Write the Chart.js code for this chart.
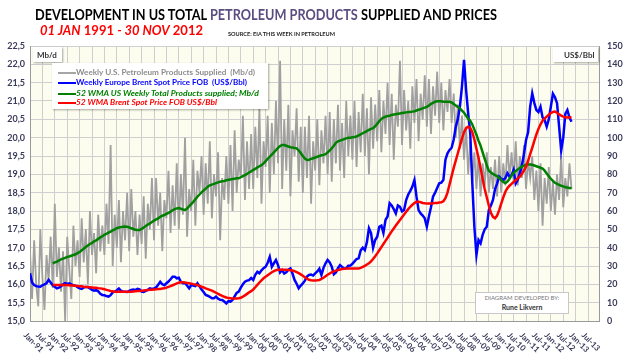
<!DOCTYPE html>
<html>
<head>
<meta charset="utf-8">
<script src="https://cdn.jsdelivr.net/npm/chart.js@4.4.1/dist/chart.umd.min.js"></script>
<style>
html,body{margin:0;padding:0;background:#fff;}
#wrap{position:relative;width:630px;height:354px;overflow:hidden;font-family:Lato,"Open Sans",sans-serif;}
#c{position:absolute;left:0;top:0;}
.ov{position:absolute;white-space:nowrap;transform-origin:0 0;line-height:1;}
.box{position:absolute;background:#fff;box-shadow:1px 1px 2px rgba(0,0,0,.35);}
.swatch{position:absolute;left:6px;width:18px;height:2px;}
</style>
</head>
<body>
<div id="wrap">
  <canvas id="c" width="630" height="354"></canvas>

  <div class="ov fit" data-w="462" style="left:35px;top:7px;font-size:15px;font-weight:bold;color:#000">DEVELOPMENT IN US TOTAL <span style="color:#5b4d80">PETROLEUM PRODUCTS</span> SUPPLIED AND PRICES</div>
  <div class="ov fit" data-w="163" style="left:40px;top:24px;font-size:13px;font-weight:bold;color:#f00"><i>01 JAN</i> 1991 <i>- 30 NOV</i> 2012</div>
  <div class="ov fit" data-w="107" style="left:228px;top:31px;font-size:6px;font-weight:bold;color:#222">SOURCE: EIA THIS WEEK IN PETROLEUM</div>

  <div class="box" style="left:33px;top:47px;width:29px;height:15px;"></div>
  <div class="ov" style="left:37px;top:51px;font-size:8px;font-weight:bold;color:#333">Mb/d</div>
  <div class="box" style="left:553px;top:47px;width:45px;height:15px;"></div>
  <div class="ov" style="left:564px;top:51px;font-size:8px;font-weight:bold;color:#333">US$/Bbl</div>

  <div class="box" style="left:52px;top:63px;width:216px;height:46px;">
    <div class="swatch" style="top:9px;background:#a6a6a6"></div>
    <div class="ov fit" data-w="179" style="left:24px;top:5px;font-size:8px;font-weight:bold;color:#8c8c8c">Weekly U.S. Petroleum Products Supplied&nbsp; (Mb/d)</div>
    <div class="swatch" style="top:19px;background:#0000ff"></div>
    <div class="ov fit" data-w="171" style="left:24px;top:15px;font-size:8px;font-weight:bold;color:#0000ff">Weekly Europe Brent Spot Price FOB&nbsp; (US$/Bbl)</div>
    <div class="swatch" style="top:30px;background:#008000"></div>
    <div class="ov fit" data-w="183" style="left:24px;top:26px;font-size:8px;font-weight:bold;font-style:italic;color:#008000">52 WMA US Weekly Total Products supplied; Mb/d</div>
    <div class="swatch" style="top:39px;background:#ff0000"></div>
    <div class="ov fit" data-w="141" style="left:24px;top:35px;font-size:8px;font-weight:bold;font-style:italic;color:#ff0000">52 WMA Brent Spot Price FOB US$/Bbl</div>
  </div>

  <div style="position:absolute;left:475px;top:292px;width:92px;height:20px;background:#fff;border:1px solid #c8c8c8;"></div>
  <div class="ov" style="left:475px;top:295px;width:94px;text-align:center;font-size:6px;color:#777">DIAGRAM DEVELOPED BY:</div>
  <div class="ov" style="left:475px;top:304px;width:94px;text-align:center;font-size:7px;font-weight:bold;color:#333">Rune Likvern</div>
</div>

<script>
// monthly readings, Jan-91 .. Nov-12 (index = months since Jan-91)
const supplyWeekly = [
  16.9, 15.6, 17.2, 16.0, 15.4, 17.5, 16.2, 15.3, 16.8, 16.1, 17.3, 15.9,
  18.2, 16.2, 17.0, 15.8, 16.9, 15.0, 17.3, 16.4, 15.6, 17.6, 16.5, 17.2,
  16.2, 17.8, 16.6, 17.5, 16.0, 18.0, 16.8, 17.4, 16.3, 17.9, 16.9, 17.6,
  16.8, 18.2, 17.1, 19.8, 16.5, 17.9, 17.0, 18.3, 16.6, 18.0, 17.2, 18.5,
  16.9, 18.6, 17.3, 18.0, 16.8, 17.9, 17.1, 18.4, 16.7, 18.2, 17.5, 18.9,
  17.2, 18.9, 17.6, 18.5, 16.9, 18.3, 17.8, 19.1, 17.4, 18.7, 17.6, 19.3,
  17.5, 19.0, 17.9, 20.0, 17.3, 18.6, 18.0, 19.4, 17.6, 19.1, 18.5, 19.5,
  17.9, 19.3, 18.2, 19.9, 17.8, 19.0, 18.4, 19.6, 17.2, 18.9, 18.3, 19.5,
  18.2, 19.8, 18.0, 20.2, 18.5, 19.4, 18.9, 20.6, 18.3, 19.9, 18.6, 20.1,
  18.6, 20.3, 18.9, 20.8, 18.2, 19.9, 19.2, 20.6, 18.5, 20.4, 19.0, 21.0,
  19.3, 22.1, 18.6, 20.5, 19.1, 20.9, 18.4, 20.2, 19.5, 20.8, 18.8, 20.3,
  18.5, 20.3, 18.9, 20.6, 18.2, 19.9, 19.1, 20.5, 18.7, 20.2, 19.3, 20.6,
  19.0, 20.7, 18.8, 20.5, 19.3, 20.9, 19.1, 20.4, 18.9, 21.0, 19.5, 20.6,
  19.4, 21.0, 19.2, 20.7, 19.6, 21.2, 19.5, 20.8, 19.0, 21.1, 19.7, 20.9,
  19.9, 21.3, 19.6, 21.0, 20.1, 21.5, 19.8, 21.2, 19.4, 20.9, 20.3, 22.1,
  19.8, 21.3, 20.2, 21.0, 19.7, 21.4, 20.4, 21.6, 19.9, 21.2, 20.5, 21.7,
  20.3, 21.6, 20.1, 21.4, 20.6, 21.8, 20.4, 21.5, 20.2, 21.3, 20.7, 21.6,
  20.4, 21.2, 20.0, 20.9, 19.7, 20.6, 19.4, 20.3, 19.0, 19.9, 18.8, 19.6,
  18.6, 19.5, 18.4, 19.3, 18.7, 19.6, 18.5, 19.2, 18.6, 19.4, 18.4, 19.5,
  18.5, 19.3, 18.7, 19.8, 18.9, 19.6, 18.8, 19.9, 18.7, 19.5, 18.9, 19.8,
  18.6, 19.4, 18.9, 19.5, 18.3, 19.1, 18.0, 19.3, 17.6, 18.9, 18.2, 19.2,
  18.0, 18.8, 17.9, 19.0, 18.3, 19.5, 18.1, 18.9, 18.4, 19.3, 18.6
];

const brentWeekly = [
  26.0, 21.0, 19.6, 19.0, 18.8, 18.7, 19.5, 20.0, 20.6, 22.4, 21.0, 19.5,
  18.7, 17.8, 18.2, 19.0, 20.0, 20.6, 20.2, 20.5, 20.0, 19.6, 19.2, 18.5,
  17.8, 17.5, 18.3, 18.6, 18.5, 17.8, 16.9, 16.5, 16.8, 16.2, 14.8, 14.2,
  14.0, 13.6, 13.3, 14.1, 15.6, 16.0, 16.8, 17.7, 16.5, 16.0, 16.0, 15.8,
  16.4, 16.9, 17.2, 16.9, 17.5, 17.2, 16.0, 15.8, 16.4, 17.0, 17.8, 17.5,
  17.8, 18.3, 19.8, 21.4, 20.0, 19.5, 20.6, 21.5, 22.8, 24.2, 24.2, 23.3,
  23.6, 21.4, 20.6, 20.6, 19.4, 17.8, 19.6, 19.3, 19.0, 20.6, 18.9, 17.2,
  15.8, 14.2, 13.8, 13.2, 12.4, 12.4, 13.3, 12.2, 11.6, 11.5, 10.6, 9.6,
  10.8, 10.6, 11.5, 13.4, 15.3, 16.0, 18.2, 20.0, 21.4, 22.0, 22.3, 23.5,
  22.4, 25.2, 26.8, 26.0, 27.6, 28.8, 29.6, 31.8, 35.0, 29.6, 31.5, 33.3,
  30.5, 26.5, 27.8, 25.9, 26.6, 28.0, 28.7, 25.9, 22.4, 20.3, 17.8, 19.3,
  20.5, 22.0, 24.2, 25.1, 25.3, 24.8, 26.0, 27.0, 28.5, 25.1, 29.0, 31.5,
  33.3, 32.0, 29.6, 25.5, 26.5, 28.8, 30.5, 29.5, 28.6, 28.7, 30.1, 30.2,
  31.2, 32.5, 33.8, 34.2, 38.5, 40.0, 38.7, 43.0, 50.6, 48.0, 40.0, 44.2,
  46.0, 51.4, 52.0, 48.0, 55.1, 57.0, 64.2, 63.0, 61.0, 58.7, 63.0, 62.3,
  59.8, 60.5, 66.0, 69.0, 71.0, 73.3, 76.9, 67.8, 60.5, 58.7, 57.5, 56.0,
  51.4, 57.0, 62.0, 67.8, 70.0, 72.5, 75.1, 75.5, 76.9, 88.0, 91.5, 93.3,
  94.5, 99.0, 106.0, 110.0, 116.9, 128.0, 142.4, 126.0, 113.3, 102.4, 75.1, 51.4,
  36.0, 44.2, 42.4, 47.0, 50.0, 51.4, 60.5, 63.0, 66.0, 72.0, 75.1, 78.7,
  77.5, 76.9, 78.0, 80.6, 78.7, 79.5, 82.4, 75.0, 77.0, 80.6, 85.0, 91.0,
  98.7, 103.0, 116.9, 124.2, 119.0, 115.1, 114.0, 116.9, 111.0, 109.6, 106.0, 110.0,
  116.9, 124.0, 122.0, 118.8, 106.0, 93.0, 100.0, 113.0, 115.1, 111.0, 108.7
];

const supplyWma = [
  null, null, null, null, null, null, null, null, null, null, null, 16.57,
  16.60, 16.62, 16.65, 16.68, 16.70, 16.72, 16.75, 16.76, 16.78, 16.80, 16.82, 16.85,
  16.88, 16.93, 16.97, 17.02, 17.06, 17.10, 17.13, 17.17, 17.20, 17.24, 17.28, 17.31,
  17.35, 17.38, 17.41, 17.44, 17.47, 17.50, 17.53, 17.55, 17.56, 17.57, 17.58, 17.57,
  17.55, 17.53, 17.51, 17.49, 17.48, 17.48, 17.51, 17.55, 17.59, 17.63, 17.66, 17.70,
  17.74, 17.77, 17.80, 17.84, 17.87, 17.89, 17.92, 17.95, 17.98, 18.02, 18.05, 18.07,
  18.08, 18.06, 18.04, 18.03, 18.07, 18.13, 18.19, 18.25, 18.32, 18.39, 18.45, 18.51,
  18.56, 18.61, 18.66, 18.70, 18.72, 18.74, 18.76, 18.78, 18.80, 18.81, 18.82, 18.84,
  18.85, 18.86, 18.87, 18.88, 18.89, 18.89, 18.92, 18.95, 18.98, 19.01, 19.05, 19.08,
  19.12, 19.15, 19.19, 19.22, 19.25, 19.30, 19.36, 19.42, 19.48, 19.54, 19.60, 19.66,
  19.72, 19.77, 19.80, 19.80, 19.78, 19.76, 19.74, 19.73, 19.72, 19.71, 19.65, 19.58,
  19.50, 19.43, 19.39, 19.40, 19.42, 19.44, 19.46, 19.48, 19.50, 19.52, 19.53, 19.55,
  19.60, 19.65, 19.71, 19.78, 19.86, 19.90, 19.92, 19.94, 19.96, 19.98, 20.00, 20.00,
  20.01, 20.02, 20.03, 20.06, 20.09, 20.12, 20.15, 20.18, 20.21, 20.24, 20.26, 20.31,
  20.38, 20.45, 20.51, 20.55, 20.57, 20.59, 20.60, 20.62, 20.63, 20.64, 20.65, 20.66,
  20.67, 20.68, 20.69, 20.70, 20.70, 20.71, 20.72, 20.74, 20.76, 20.78, 20.80, 20.82,
  20.84, 20.88, 20.92, 20.95, 20.98, 20.99, 20.99, 20.99, 20.98, 20.98, 20.98, 20.98,
  20.96, 20.92, 20.88, 20.84, 20.80, 20.74, 20.68, 20.60, 20.52, 20.46, 20.36, 20.22,
  20.08, 19.92, 19.78, 19.60, 19.42, 19.25, 19.10, 19.05, 19.01, 18.98, 18.95, 18.90,
  18.84, 18.79, 18.76, 18.80, 18.88, 18.97, 19.04, 19.09, 19.13, 19.17, 19.21, 19.24,
  19.26, 19.27, 19.27, 19.26, 19.24, 19.22, 19.20, 19.18, 19.16, 19.10, 19.02, 18.95,
  18.88, 18.82, 18.77, 18.74, 18.71, 18.69, 18.67, 18.65, 18.64, 18.63, 18.62
];

const brentWma = [
  null, null, null, null, null, null, null, null, null, null, null, 19.6,
  19.6, 19.6, 19.6, 19.6, 19.6, 19.6, 19.6, 19.5, 19.4, 19.3, 19.2, 19.1,
  19.0, 18.9, 18.7, 18.6, 18.5, 18.4, 18.3, 18.2, 18.1, 17.9, 17.8, 17.6,
  17.3, 17.0, 16.7, 16.4, 16.2, 16.0, 15.9, 15.9, 15.9, 15.9, 16.0, 16.0,
  16.0, 16.0, 16.1, 16.2, 16.3, 16.4, 16.5, 16.7, 16.8, 16.9, 17.0, 17.1,
  17.2, 17.3, 17.4, 17.5, 17.7, 17.8, 18.2, 18.6, 19.0, 19.5, 20.0, 20.5,
  20.9, 21.1, 21.1, 21.0, 20.8, 20.6, 20.4, 20.1, 19.9, 19.6, 19.2, 18.7,
  18.3, 17.8, 17.4, 17.0, 16.6, 16.0, 15.4, 14.8, 14.2, 13.7, 13.2, 12.8,
  12.5, 12.4, 12.3, 12.3, 12.3, 12.4, 12.7, 13.3, 14.0, 14.8, 15.6, 16.3,
  17.2, 18.4, 19.7, 21.0, 22.2, 23.3, 24.2, 25.0, 25.8, 26.6, 27.2, 27.7,
  27.9, 28.0, 28.0, 27.9, 27.9, 27.8, 27.7, 27.5, 27.2, 26.7, 26.1, 25.4,
  24.7, 23.9, 23.1, 22.5, 22.2, 22.1, 22.1, 22.2, 22.4, 22.9, 23.6, 24.4,
  25.2, 25.9, 26.6, 27.1, 27.5, 27.8, 28.1, 28.3, 28.5, 28.6, 28.7, 28.7,
  28.7, 28.7, 28.7, 28.7, 29.0, 29.5, 30.1, 30.8, 31.5, 32.5, 33.8, 35.3,
  36.9, 38.6, 40.3, 42.0, 43.7, 45.4, 47.2, 48.9, 50.5, 52.1, 53.6, 55.1,
  56.6, 58.1, 59.6, 61.0, 62.3, 63.4, 64.3, 65.0, 65.1, 64.8, 64.4, 64.2,
  64.1, 64.1, 64.1, 64.2, 64.3, 64.4, 64.6, 64.8, 65.3, 67.0, 70.0, 74.5,
  79.0, 83.5, 87.5, 91.5, 95.5, 99.5, 103.0, 105.2, 106.0, 105.3, 103.0, 99.0,
  94.0, 89.0, 83.5, 77.5, 72.0, 67.5, 63.0, 59.0, 56.8, 56.0, 57.5, 60.5,
  64.0, 67.5, 70.5, 72.5, 73.8, 74.8, 75.8, 76.8, 77.8, 78.7, 80.3, 82.2,
  84.2, 87.4, 91.0, 94.5, 98.2, 101.8, 104.8, 107.3, 109.2, 110.5, 111.5, 112.5,
  113.4, 114.0, 114.2, 113.6, 112.7, 112.0, 111.5, 111.1, 111.0, 111.0, 111.1
];

const monthNames = ['Jan', 'Jul'];
const tickColor = '#3b3b5b';

function pts(arr) {
  return arr.map((v, i) => ({ x: i, y: v }));
}

// plot background + rotated month labels
const decor = {
  id: 'decor',
  beforeDraw(chart) {
    const { ctx, chartArea: a } = chart;
    ctx.save();
    ctx.fillStyle = '#fff';
    ctx.fillRect(0, 0, chart.width, chart.height);
    ctx.fillStyle = '#fdfdef';
    ctx.fillRect(a.left, a.top, a.right - a.left, a.bottom - a.top);
    ctx.restore();
  },
  afterDraw(chart) {
    const { ctx } = chart;
    const xs = chart.scales.x;
    ctx.save();
    ctx.font = 'bold 8px Lato';
    ctx.fillStyle = tickColor;
    ctx.textAlign = 'left';
    ctx.textBaseline = 'middle';
    xs.ticks.forEach(t => {
      const m = Math.round(t.value);
      const yr = String((91 + Math.floor(m / 12)) % 100).padStart(2, '0');
      const label = monthNames[(m % 12) / 6] + '-' + yr;
      const px = xs.getPixelForValue(t.value);
      ctx.save();
      ctx.translate(px - 5, 334);
      ctx.rotate(Math.PI / 4);
      ctx.fillText(label, 0, 0);
      ctx.restore();
    });
    ctx.restore();
  }
};

new Chart(document.getElementById('c'), {
  type: 'line',
  data: {
    datasets: [
      { label: 'Weekly U.S. Petroleum Products Supplied  (Mb/d)', data: pts(supplyWeekly), yAxisID: 'y',
        borderColor: '#a0a0a0', borderWidth: 1.8, order: 4 },
      { label: 'Weekly Europe Brent Spot Price FOB  (US$/Bbl)', data: pts(brentWeekly), yAxisID: 'y1',
        borderColor: '#0000ff', borderWidth: 2.5, order: 3 },
      { label: '52 WMA US Weekly Total Products supplied; Mb/d', data: pts(supplyWma), yAxisID: 'y',
        borderColor: '#008000', borderWidth: 2.5, order: 2 },
      { label: '52 WMA Brent Spot Price FOB US$/Bbl', data: pts(brentWma), yAxisID: 'y1',
        borderColor: '#ff0000', borderWidth: 2.5, order: 1 }
    ]
  },
  options: {
    responsive: false,
    animation: false,
    devicePixelRatio: 1,
    layout: { padding: { top: 46, left: 0, right: 0, bottom: 0 } },
    elements: { point: { radius: 0 }, line: { tension: 0, fill: false } },
    plugins: { legend: { display: false }, tooltip: { enabled: false } },
    scales: {
      x: {
        type: 'linear', min: 0, max: 275.3,
        ticks: { stepSize: 6, includeBounds: false, display: false },
        grid: { color: '#cfcfcf', drawTicks: false },
        border: { color: '#9a9a9a' },
        afterFit(s) { s.height = 33; }
      },
      y: {
        position: 'left', min: 15, max: 22.5,
        ticks: { stepSize: 0.5, padding: 5, color: tickColor, font: { family: 'Lato', size: 9, weight: 'bold' },
                 callback: v => v.toFixed(1).replace('.', ',') },
        grid: { color: '#cfcfcf', drawTicks: false },
        border: { color: '#9a9a9a' },
        afterFit(s) { s.width = 30; }
      },
      y1: {
        position: 'right', min: 0, max: 150,
        ticks: { stepSize: 10, padding: 8, color: tickColor, font: { family: 'Lato', size: 9, weight: 'bold' } },
        grid: { display: false, drawTicks: false },
        border: { color: '#9a9a9a' },
        afterFit(s) { s.width = 31; }
      }
    }
  },
  plugins: [decor]
});

// squeeze overlay texts to the widths seen in the picture
document.querySelectorAll('.fit').forEach(el => {
  const w = el.getBoundingClientRect().width;
  el.style.transform = 'scaleX(' + (parseFloat(el.dataset.w) / w) + ')';
});
</script>
</body>
</html>
